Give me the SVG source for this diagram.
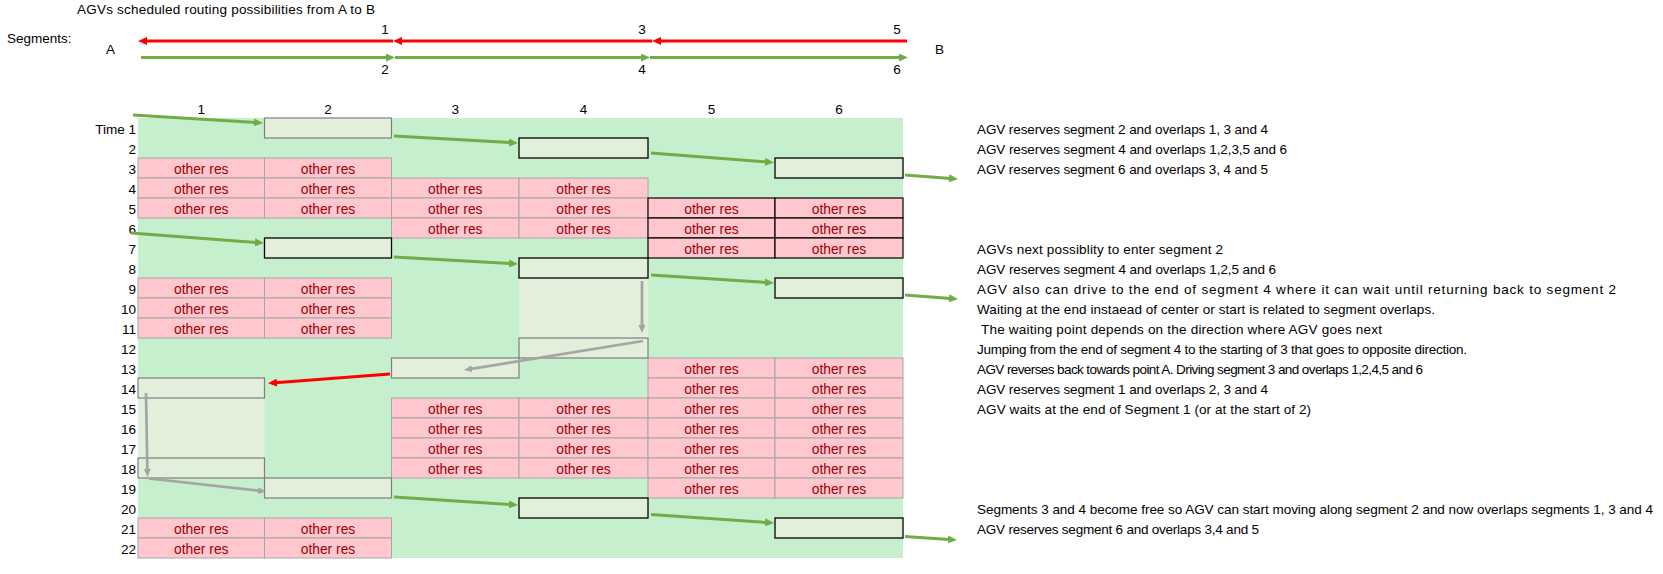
<svg xmlns="http://www.w3.org/2000/svg" width="1663" height="574" viewBox="0 0 1663 574">
<style>
text{font-family:"Liberation Sans",Arial,sans-serif;font-size:13.5px;fill:#000}
.or{font-size:13.8px}
.tr{text-anchor:end}
.tc{text-anchor:middle}
.or{text-anchor:middle;fill:#9C0006}
.pk{fill:#FFC7CE;stroke:#A6A6A6;stroke-width:1}
.pkb{fill:#FFC7CE;stroke:#000;stroke-width:1.2}
.bx{fill:#E2EFDA;stroke:#7F7F7F;stroke-width:1.2}
.bxb{fill:#E2EFDA;stroke:#000;stroke-width:1.3}
.lt{fill:#E2EFDA}
.cg{stroke:#70AD47;stroke-width:3;fill:none;marker-end:url(#ag)}
.cr{stroke:#FF0000;stroke-width:3;fill:none;marker-end:url(#ar)}
.cy{stroke:#A5A5A5;stroke-width:2.75;fill:none;marker-end:url(#ay)}
</style>
<defs>
<marker id="ag" markerUnits="userSpaceOnUse" markerWidth="9" markerHeight="8" refX="5" refY="4" orient="auto"><path d="M0,0L9,4L0,8z" fill="#70AD47"/></marker>
<marker id="ar" markerUnits="userSpaceOnUse" markerWidth="9" markerHeight="8" refX="5" refY="4" orient="auto"><path d="M0,0L9,4L0,8z" fill="#FF0000"/></marker>
<marker id="ay" markerUnits="userSpaceOnUse" markerWidth="8" markerHeight="7" refX="4" refY="3.5" orient="auto"><path d="M0,0L8,3.5L0,7z" fill="#A5A5A5"/></marker>
</defs>
<rect width="1663" height="574" fill="#fff"/>

<g id="header">
<text x="77" y="13.5" textLength="298">AGVs scheduled routing possibilities from A to B</text>
<text x="7" y="43">Segments:</text>
<text x="106" y="54">A</text>
<text x="935" y="54">B</text>
<text class="tc" x="385" y="34">1</text>
<text class="tc" x="642" y="34">3</text>
<text class="tc" x="897" y="34">5</text>
<text class="tc" x="385" y="74">2</text>
<text class="tc" x="642" y="74">4</text>
<text class="tc" x="897" y="74">6</text>
</g>

<g id="column-headers">
<text class="tc" x="201.25" y="114">1</text>
<text class="tc" x="328" y="114">2</text>
<text class="tc" x="455.25" y="114">3</text>
<text class="tc" x="583.5" y="114">4</text>
<text class="tc" x="711.5" y="114">5</text>
<text class="tc" x="839" y="114">6</text>
</g>

<g id="time-labels">
<text class="tr" x="136" y="133.5">Time 1</text>
<text class="tr" x="136" y="153.5">2</text>
<text class="tr" x="136" y="173.5">3</text>
<text class="tr" x="136" y="193.5">4</text>
<text class="tr" x="136" y="213.5">5</text>
<text class="tr" x="136" y="233.5">6</text>
<text class="tr" x="136" y="253.5">7</text>
<text class="tr" x="136" y="273.5">8</text>
<text class="tr" x="136" y="293.5">9</text>
<text class="tr" x="136" y="313.5">10</text>
<text class="tr" x="136" y="333.5">11</text>
<text class="tr" x="136" y="353.5">12</text>
<text class="tr" x="136" y="373.5">13</text>
<text class="tr" x="136" y="393.5">14</text>
<text class="tr" x="136" y="413.5">15</text>
<text class="tr" x="136" y="433.5">16</text>
<text class="tr" x="136" y="453.5">17</text>
<text class="tr" x="136" y="473.5">18</text>
<text class="tr" x="136" y="493.5">19</text>
<text class="tr" x="136" y="513.5">20</text>
<text class="tr" x="136" y="533.5">21</text>
<text class="tr" x="136" y="553.5">22</text>
</g>

<g id="free-area">
<rect x="138" y="118" width="765" height="440" fill="#C6EFCE"/>
</g>

<g id="other-reservations">
<rect class="pk" x="138" y="158" width="126.5" height="20"/><rect class="pk" x="264.5" y="158" width="127" height="20"/>
<rect class="pk" x="138" y="178" width="126.5" height="20"/><rect class="pk" x="264.5" y="178" width="127" height="20"/><rect class="pk" x="391.5" y="178" width="127.5" height="20"/><rect class="pk" x="519" y="178" width="129" height="20"/>
<rect class="pk" x="138" y="198" width="126.5" height="20"/><rect class="pk" x="264.5" y="198" width="127" height="20"/><rect class="pk" x="391.5" y="198" width="127.5" height="20"/><rect class="pk" x="519" y="198" width="129" height="20"/>
<rect class="pk" x="391.5" y="218" width="127.5" height="20"/><rect class="pk" x="519" y="218" width="129" height="20"/>
<rect class="pkb" x="648" y="198" width="127" height="20"/><rect class="pkb" x="775" y="198" width="128" height="20"/>
<rect class="pkb" x="648" y="218" width="127" height="20"/><rect class="pkb" x="775" y="218" width="128" height="20"/>
<rect class="pkb" x="648" y="238" width="127" height="20"/><rect class="pkb" x="775" y="238" width="128" height="20"/>
<rect class="pk" x="138" y="278" width="126.5" height="20"/><rect class="pk" x="264.5" y="278" width="127" height="20"/>
<rect class="pk" x="138" y="298" width="126.5" height="20"/><rect class="pk" x="264.5" y="298" width="127" height="20"/>
<rect class="pk" x="138" y="318" width="126.5" height="20"/><rect class="pk" x="264.5" y="318" width="127" height="20"/>
<rect class="pk" x="648" y="358" width="127" height="20"/><rect class="pk" x="775" y="358" width="128" height="20"/>
<rect class="pk" x="648" y="378" width="127" height="20"/><rect class="pk" x="775" y="378" width="128" height="20"/>
<rect class="pk" x="391.5" y="398" width="127.5" height="20"/><rect class="pk" x="519" y="398" width="129" height="20"/><rect class="pk" x="648" y="398" width="127" height="20"/><rect class="pk" x="775" y="398" width="128" height="20"/>
<rect class="pk" x="391.5" y="418" width="127.5" height="20"/><rect class="pk" x="519" y="418" width="129" height="20"/><rect class="pk" x="648" y="418" width="127" height="20"/><rect class="pk" x="775" y="418" width="128" height="20"/>
<rect class="pk" x="391.5" y="438" width="127.5" height="20"/><rect class="pk" x="519" y="438" width="129" height="20"/><rect class="pk" x="648" y="438" width="127" height="20"/><rect class="pk" x="775" y="438" width="128" height="20"/>
<rect class="pk" x="391.5" y="458" width="127.5" height="20"/><rect class="pk" x="519" y="458" width="129" height="20"/><rect class="pk" x="648" y="458" width="127" height="20"/><rect class="pk" x="775" y="458" width="128" height="20"/>
<rect class="pk" x="648" y="478" width="127" height="20"/><rect class="pk" x="775" y="478" width="128" height="20"/>
<rect class="pk" x="138" y="518" width="126.5" height="20"/><rect class="pk" x="264.5" y="518" width="127" height="20"/>
<rect class="pk" x="138" y="538" width="126.5" height="20"/><rect class="pk" x="264.5" y="538" width="127" height="20"/>

<text class="or" x="201.25" y="173.5">other res</text><text class="or" x="328" y="173.5">other res</text>
<text class="or" x="201.25" y="193.5">other res</text><text class="or" x="328" y="193.5">other res</text><text class="or" x="455.25" y="193.5">other res</text><text class="or" x="583.5" y="193.5">other res</text>
<text class="or" x="201.25" y="213.5">other res</text><text class="or" x="328" y="213.5">other res</text><text class="or" x="455.25" y="213.5">other res</text><text class="or" x="583.5" y="213.5">other res</text><text class="or" x="711.5" y="213.5">other res</text><text class="or" x="839" y="213.5">other res</text>
<text class="or" x="455.25" y="233.5">other res</text><text class="or" x="583.5" y="233.5">other res</text><text class="or" x="711.5" y="233.5">other res</text><text class="or" x="839" y="233.5">other res</text>
<text class="or" x="711.5" y="253.5">other res</text><text class="or" x="839" y="253.5">other res</text>
<text class="or" x="201.25" y="293.5">other res</text><text class="or" x="328" y="293.5">other res</text>
<text class="or" x="201.25" y="313.5">other res</text><text class="or" x="328" y="313.5">other res</text>
<text class="or" x="201.25" y="333.5">other res</text><text class="or" x="328" y="333.5">other res</text>
<text class="or" x="711.5" y="373.5">other res</text><text class="or" x="839" y="373.5">other res</text>
<text class="or" x="711.5" y="393.5">other res</text><text class="or" x="839" y="393.5">other res</text>
<text class="or" x="455.25" y="413.5">other res</text><text class="or" x="583.5" y="413.5">other res</text><text class="or" x="711.5" y="413.5">other res</text><text class="or" x="839" y="413.5">other res</text>
<text class="or" x="455.25" y="433.5">other res</text><text class="or" x="583.5" y="433.5">other res</text><text class="or" x="711.5" y="433.5">other res</text><text class="or" x="839" y="433.5">other res</text>
<text class="or" x="455.25" y="453.5">other res</text><text class="or" x="583.5" y="453.5">other res</text><text class="or" x="711.5" y="453.5">other res</text><text class="or" x="839" y="453.5">other res</text>
<text class="or" x="455.25" y="473.5">other res</text><text class="or" x="583.5" y="473.5">other res</text><text class="or" x="711.5" y="473.5">other res</text><text class="or" x="839" y="473.5">other res</text>
<text class="or" x="711.5" y="493.5">other res</text><text class="or" x="839" y="493.5">other res</text>
<text class="or" x="201.25" y="533.5">other res</text><text class="or" x="328" y="533.5">other res</text>
<text class="or" x="201.25" y="553.5">other res</text><text class="or" x="328" y="553.5">other res</text>
</g>

<g id="wait-areas">
<rect class="lt" x="519" y="278" width="129" height="60"/>
<rect class="lt" x="138" y="398" width="126.5" height="60"/>
</g>

<g id="res-t1"><rect class="bx" x="264.5" y="118" width="127" height="20"/></g>
<g id="res-t2"><rect class="bxb" x="519" y="138" width="129" height="20"/></g>
<g id="res-t3"><rect class="bxb" x="775" y="158" width="128" height="20"/></g>
<g id="res-t7"><rect class="bxb" x="264.5" y="238" width="127" height="20"/></g>
<g id="res-t8"><rect class="bxb" x="519" y="258" width="129" height="20"/></g>
<g id="res-t9"><rect class="bxb" x="775" y="278" width="128" height="20"/></g>
<g id="res-t12"><rect class="bx" x="519" y="338" width="129" height="20"/></g>
<g id="res-t13"><rect class="bx" x="391.5" y="358" width="127.5" height="20"/></g>
<g id="res-t14"><rect class="bx" x="138" y="378" width="126.5" height="20"/></g>
<g id="res-t18"><rect class="bx" x="138" y="458" width="126.5" height="20"/></g>
<g id="res-t19"><rect class="bx" x="264.5" y="478" width="127" height="20"/></g>
<g id="res-t20"><rect class="bxb" x="519" y="498" width="129" height="20"/></g>
<g id="res-t21"><rect class="bxb" x="775" y="518" width="128" height="20"/></g>

<g id="connectors">
<line class="cr" x1="907" y1="41" x2="656" y2="41"/>
<line class="cr" x1="652" y1="41" x2="397" y2="41"/>
<line class="cr" x1="393" y1="41" x2="142" y2="41"/>
<line class="cg" x1="141" y1="57.5" x2="391" y2="57.5"/>
<line class="cg" x1="395" y1="57.5" x2="646" y2="57.5"/>
<line class="cg" x1="650" y1="57.5" x2="904" y2="57.5"/>

<line class="cg" x1="133" y1="115" x2="259" y2="122.75"/>
<line class="cg" x1="394" y1="136" x2="514" y2="142.8"/>
<line class="cg" x1="651" y1="153" x2="770" y2="162.2"/>
<line class="cg" x1="905" y1="175" x2="954" y2="178.7"/>
<line class="cg" x1="131" y1="233" x2="260" y2="242.7"/>
<line class="cg" x1="394" y1="257" x2="514" y2="263.8"/>
<line class="cg" x1="651" y1="275" x2="770" y2="282.7"/>
<line class="cg" x1="905" y1="295" x2="954" y2="298.7"/>
<line class="cy" x1="642" y1="281" x2="642" y2="329"/>
<line class="cy" x1="643" y1="341" x2="468" y2="369.4"/>
<line class="cr" x1="390" y1="374" x2="272" y2="383"/>
<line class="cy" x1="146" y1="393" x2="147.4" y2="473"/>
<line class="cy" x1="149" y1="478.5" x2="262" y2="491.1"/>
<line class="cg" x1="394" y1="497" x2="514" y2="504.7"/>
<line class="cg" x1="651" y1="514.5" x2="770" y2="522.7"/>
<line class="cg" x1="905" y1="536.5" x2="953" y2="539.7"/>
</g>

<g id="notes">
<text x="977" y="133.5" textLength="291">AGV reserves segment 2 and overlaps 1, 3 and 4</text>
<text x="977" y="153.5" textLength="310">AGV reserves segment 4 and overlaps 1,2,3,5 and 6</text>
<text x="977" y="173.5" textLength="291">AGV reserves segment 6 and overlaps 3, 4 and 5</text>
<text x="977" y="253.5" textLength="246">AGVs next possiblity to enter segment 2</text>
<text x="977" y="273.5" textLength="299">AGV reserves segment 4 and overlaps 1,2,5 and 6</text>
<text x="977" y="293.5" textLength="639">AGV also can drive to the end of segment 4 where it can wait until returning back to segment 2</text>
<text x="977" y="313.5" textLength="458">Waiting at the end instaead of center or start is related to segment overlaps.</text>
<text x="981" y="333.5" textLength="401">The waiting point depends on the direction where AGV goes next</text>
<text x="977" y="353.5" textLength="490">Jumping from the end of segment 4 to the starting of 3 that goes to opposite direction.</text>
<text x="977" y="373.5" textLength="446">AGV reverses back towards point A. Driving segment 3 and overlaps 1,2,4,5 and 6</text>
<text x="977" y="393.5" textLength="291">AGV reserves segment 1 and overlaps 2, 3 and 4</text>
<text x="977" y="413.5" textLength="334">AGV waits at the end of Segment 1 (or at the start of 2)</text>
<text x="977" y="513.5" textLength="676">Segments 3 and 4 become free so AGV can start moving along segment 2 and now overlaps segments 1, 3 and 4</text>
<text x="977" y="533.5" textLength="282">AGV reserves segment 6 and overlaps 3,4 and 5</text>
</g>
</svg>
